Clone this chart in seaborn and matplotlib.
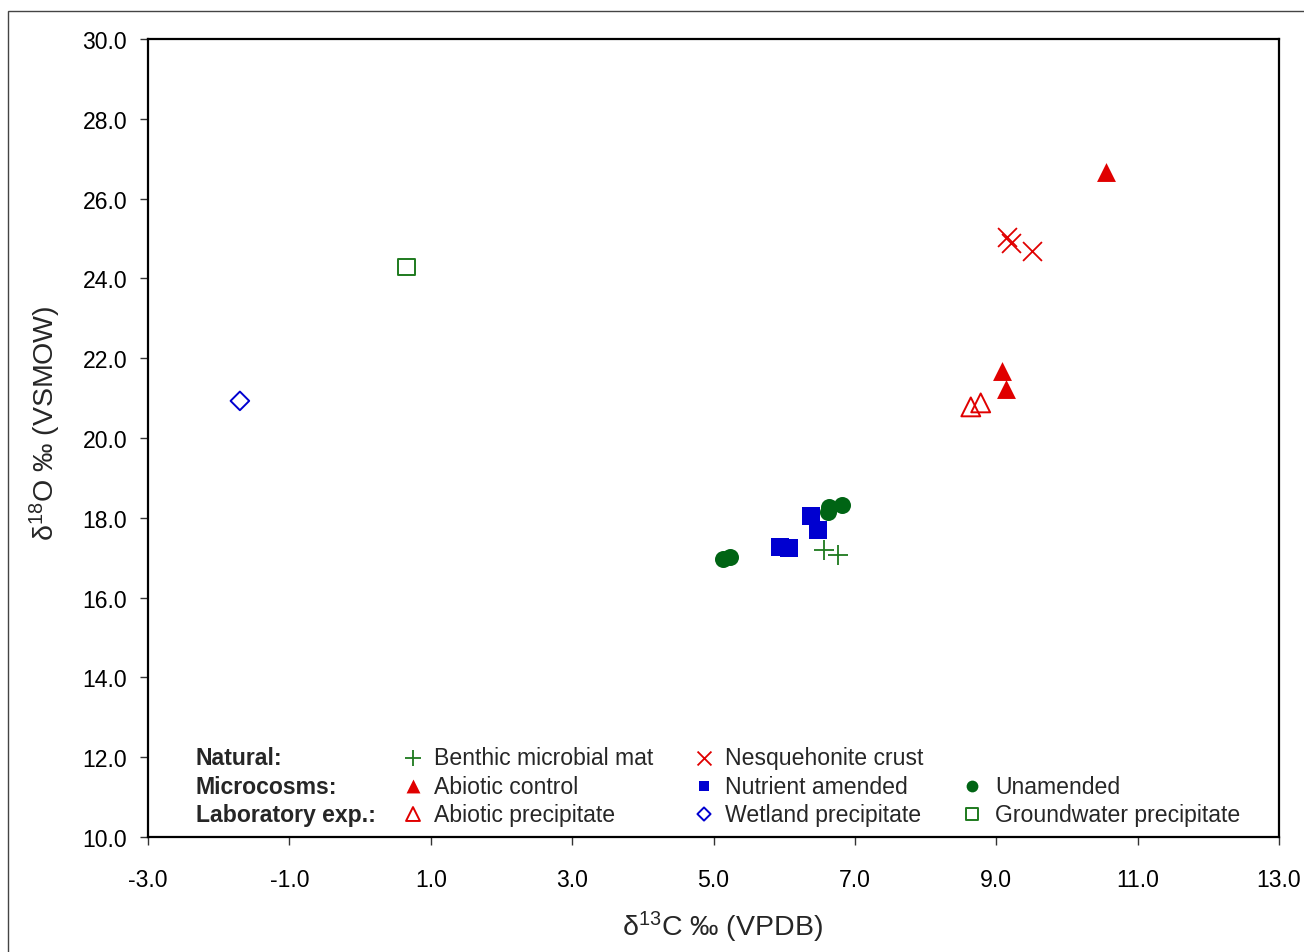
import pandas as pd
import matplotlib
matplotlib.use('Agg')
import matplotlib.pyplot as plt
import matplotlib.patches as mpatches
import seaborn as sns

# values
benthic_x = [6.56, 6.76]
benthic_y = [17.19, 17.07]
nesq_x = [9.15, 9.21, 9.51]
nesq_y = [25.04, 24.89, 24.69]
abiotic_ctrl_x = [10.55, 9.08, 9.14]
abiotic_ctrl_y = [26.67, 21.68, 21.23]
nutrient_x = [5.94, 6.07, 6.38, 6.48]
nutrient_y = [17.27, 17.24, 18.05, 17.69]
unamended_x = [5.13, 5.23, 6.62, 6.64, 6.82]
unamended_y = [16.97, 17.02, 18.15, 18.27, 18.32]
abiotic_prec_x = [8.64, 8.78]
abiotic_prec_y = [20.78, 20.88]
wetland_x = [-1.70]
wetland_y = [20.93]
ground_x = [0.66]
ground_y = [24.29]

x_ticks = [-3.0, -1.0, 1.0, 3.0, 5.0, 7.0, 9.0, 11.0, 13.0]
y_ticks = [10.0, 12.0, 14.0, 16.0, 18.0, 20.0, 22.0, 24.0, 26.0, 28.0, 30.0]

RED = '#E00000'
BLUE = '#0000D0'
DGREEN = '#006414'
GREEN = '#1E7A1E'

# name, x, y, marker, size, colour, filled, legend size
series = [
    ('Benthic microbial mat', benthic_x, benthic_y, '+', 210, GREEN, None, 120),
    ('Nesquehonite crust', nesq_x, nesq_y, 'x', 185, RED, None, 100),
    ('Abiotic control', abiotic_ctrl_x, abiotic_ctrl_y, '^', 185, RED, True, 100),
    ('Nutrient amended', nutrient_x, nutrient_y, 's', 150, BLUE, True, 62),
    ('Unamended', unamended_x, unamended_y, 'o', 150, DGREEN, True, 72),
    ('Abiotic precipitate', abiotic_prec_x, abiotic_prec_y, '^', 185, RED, False, 100),
    ('Wetland precipitate', wetland_x, wetland_y, 'D', 90, BLUE, False, 45),
    ('Groundwater precipitate', ground_x, ground_y, 's', 140, GREEN, False, 70),
]

legend_rows = [
    ('Natural:', ['Benthic microbial mat', 'Nesquehonite crust', None]),
    ('Microcosms:', ['Abiotic control', 'Nutrient amended', 'Unamended']),
    ('Laboratory exp.:', ['Abiotic precipitate', 'Wetland precipitate', 'Groundwater precipitate']),
]

sns.set_style('white')
plt.rcParams['font.family'] = ['Liberation Sans', 'DejaVu Sans']
plt.rcParams['mathtext.fontset'] = 'custom'
plt.rcParams['mathtext.rm'] = 'Liberation Sans'
plt.rcParams['mathtext.it'] = 'Liberation Sans'

TEXT_SIZE = 16.6


def marker_kws(marker, colour, filled, size):
    kws = dict(marker=marker, s=size)
    if filled is None:
        kws.update(color=colour, linewidth=1.3)
    elif filled:
        kws.update(color=colour, edgecolor=colour, linewidth=0)
    else:
        kws.update(color=colour, facecolor='none', edgecolor=colour, linewidth=1.4)
    return kws


def main():
    frames = []
    for name, xs, ys, *_ in series:
        frames.append(pd.DataFrame({'d13C': xs, 'd18O': ys, 'group': name}))
    df = pd.concat(frames, ignore_index=True)

    fig = plt.figure(figsize=(13.04, 9.53), dpi=100)
    ax = fig.add_axes([148 / 1304, 1 - 838 / 953, (1279 - 148) / 1304, (838 - 40) / 953])

    for name, xs, ys, marker, size, colour, filled, _ in series:
        sub = df[df['group'] == name]
        sns.scatterplot(data=sub, x='d13C', y='d18O', ax=ax, legend=False,
                        zorder=3, **marker_kws(marker, colour, filled, size))

    ax.set_xlim(-3, 13)
    ax.set_ylim(10, 30)
    ax.set_xticks(x_ticks)
    ax.set_yticks(y_ticks)
    ax.set_xticklabels([f'{t:.1f}' for t in x_ticks])
    ax.set_yticklabels([f'{t:.1f}' for t in y_ticks])
    ax.tick_params(axis='both', direction='out', length=6, width=1, color='#333333',
                   labelsize=TEXT_SIZE, labelcolor='black')
    ax.tick_params(axis='x', pad=16)
    ax.tick_params(axis='y', pad=9)
    ax.tick_params(bottom=True, left=True)
    for sp in ax.spines.values():
        sp.set_color('black')
        sp.set_linewidth(1.6)

    ax.set_xlabel(r'δ$^{13}$C ‰ (VPDB)', fontsize=20.5, labelpad=13)
    ax.set_ylabel(r'δ$^{18}$O ‰ (VSMOW)', fontsize=20.5, labelpad=14)
    ax.xaxis.label.set_x(0.508)
    ax.yaxis.label.set_y(0.52)

    # custom legend laid out as a table inside the axes
    lookup = {s[0]: s for s in series}
    row_y = [0.099, 0.0639, 0.0288]
    mark_x = [0.2343, 0.4916, 0.7286]
    text_x = [0.2529, 0.5102, 0.7489]
    for (header, names), yy in zip(legend_rows, row_y):
        ax.text(0.0424, yy, header, transform=ax.transAxes, fontsize=TEXT_SIZE,
                fontweight='bold', va='center', ha='left')
        for name, mx, tx in zip(names, mark_x, text_x):
            if name is None:
                continue
            _, _, _, marker, _, colour, filled, lsize = lookup[name]
            ax.scatter([mx], [yy], transform=ax.transAxes, clip_on=False,
                       zorder=4, **marker_kws(marker, colour, filled, lsize))
            ax.text(tx, yy, name, transform=ax.transAxes, fontsize=TEXT_SIZE,
                    va='center', ha='left')

    # outer frame of the original figure (cropped on right/bottom)
    frame = mpatches.Rectangle((8 / 1304, -0.2), 2.0, 0.2 + (953 - 12) / 953,
                               transform=fig.transFigure, fill=False,
                               edgecolor='#444444', linewidth=1.0)
    fig.patches.append(frame)

    fig.savefig('out.png', dpi=100)
    plt.close(fig)


if __name__ == '__main__':
    main()
